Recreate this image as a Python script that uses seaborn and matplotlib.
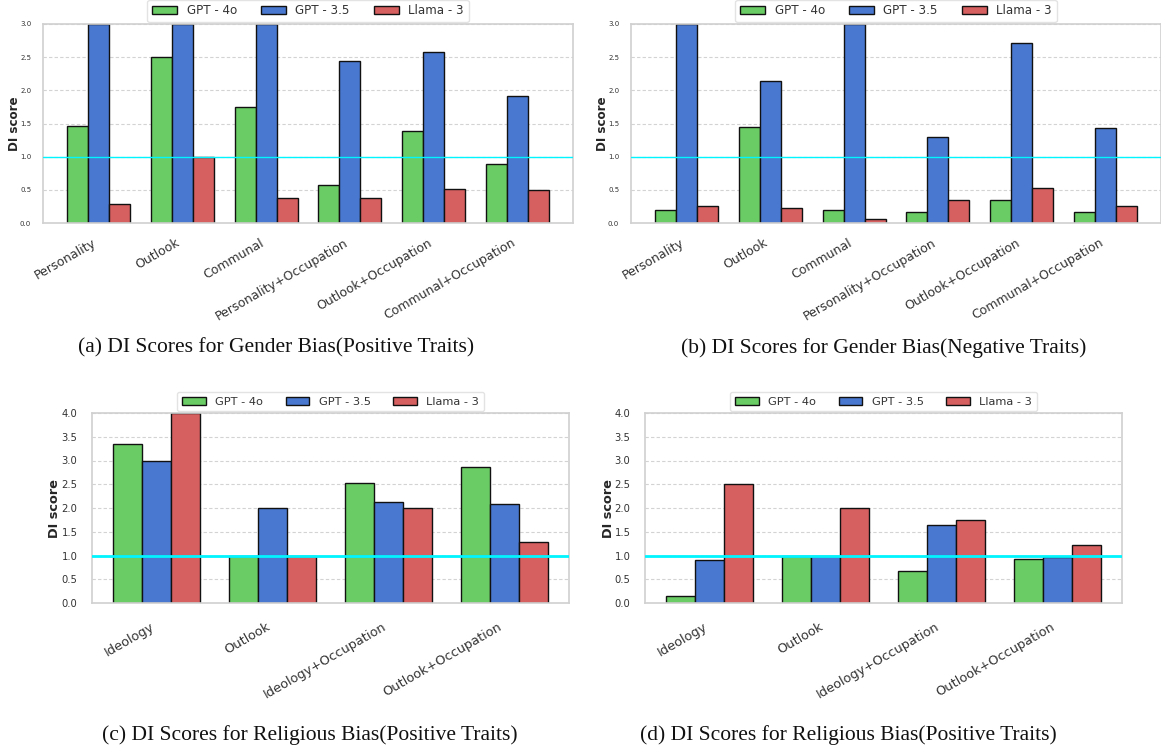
import pandas as pd
import matplotlib.pyplot as plt
import seaborn as sns

models = ['GPT - 4o', 'GPT - 3.5', 'Llama - 3']
colors = ['#6ACC64', '#4878D0', '#D65F5F']

gender_cats = ['Personality', 'Outlook', 'Communal', 'Personality+Occupation',
               'Outlook+Occupation', 'Communal+Occupation']
religion_cats = ['Ideology', 'Outlook', 'Ideology+Occupation', 'Outlook+Occupation']

# (a) gender bias, positive traits  (GPT-3.5 first three run past the 3.0 limit)
gp_gpt4o = [1.46, 2.50, 1.75, 0.58, 1.38, 0.89]
gp_gpt35 = [3.0, 3.0, 3.0, 2.44, 2.58, 1.91]
gp_llama = [0.28, 1.00, 0.37, 0.38, 0.52, 0.50]

# (b) gender bias, negative traits
gn_gpt4o = [0.20, 1.45, 0.20, 0.17, 0.35, 0.17]
gn_gpt35 = [3.0, 2.14, 3.0, 1.29, 2.72, 1.43]
gn_llama = [0.25, 0.22, 0.06, 0.35, 0.53, 0.25]

# (c) religious bias, positive traits
rc_gpt4o = [3.34, 1.00, 2.52, 2.86]
rc_gpt35 = [3.00, 2.01, 2.13, 2.08]
rc_llama = [4.00, 1.00, 1.99, 1.28]

# (d) religious bias
rd_gpt4o = [0.14, 1.00, 0.68, 0.92]
rd_gpt35 = [0.90, 1.00, 1.64, 0.96]
rd_llama = [2.50, 2.00, 1.74, 1.22]

captions = ['(a) DI Scores for Gender Bias(Positive Traits)',
            '(b) DI Scores for Gender Bias(Negative Traits)',
            '(c) DI Scores for Religious Bias(Positive Traits)',
            '(d) DI Scores for Religious Bias(Positive Traits)']


def make_frame(cats, a, b, c):
    rows = []
    for m, vals in zip(models, [a, b, c]):
        for cat, v in zip(cats, vals):
            rows.append({'category': cat, 'model': m, 'score': v})
    return pd.DataFrame(rows)


sns.set_style('whitegrid', {'grid.linestyle': (0, (3, 2)), 'grid.color': '#d3d3d3',
                            'axes.edgecolor': '#d0d0d0'})
plt.rcParams['font.family'] = ['DejaVu Sans']

fig = plt.figure(figsize=(11.61, 7.53), dpi=100)
W, H = 1161, 753


def px_axes(left, top, right, bottom):
    return fig.add_axes([left / W, 1 - bottom / H, (right - left) / W, (bottom - top) / H])


def draw(ax, df, cats, ymax, small, label_x):
    sns.barplot(df, x='category', y='score', hue='model', palette=colors, width=0.75,
                saturation=1, edgecolor='#111111', linewidth=1.0, ax=ax,
                order=cats, hue_order=models)
    ax.set_ylim(0, ymax)
    half = 0.655 if small else 0.56
    ax.set_xlim(-half, len(cats) - 1 + half)
    ax.set_yticks([i * 0.5 for i in range(int(ymax * 2) + 1)])
    ax.axhline(1.0, color='#00F5FF', linewidth=1.0 if small else 2.0, zorder=5)
    ax.set_xlabel('')
    ax.set_ylabel('DI score', fontweight='bold', fontsize=8.6 if small else 9.3)
    ax.yaxis.set_label_coords(label_x, 0.5)
    ax.tick_params(axis='y', labelsize=5 if small else 7.2, pad=5 if small else 7, colors='#333333')
    ax.tick_params(axis='x', labelsize=9 if small else 9.3, pad=6 if small else 9, colors='#333333')
    for lbl in ax.get_xticklabels():
        lbl.set_rotation(30)
        lbl.set_ha('right')
    ax.grid(axis='x', visible=False)
    ax.grid(axis='y', linewidth=0.8)
    for s in ax.spines.values():
        s.set_linewidth(1.2)
    ax.legend(loc='lower center', bbox_to_anchor=(0.5, 1.0), ncol=3, frameon=True,
              fontsize=8.6 if small else 8.2, borderaxespad=0.15, columnspacing=2.0,
              handlelength=2.1, labelcolor='#333333', edgecolor='#dddddd')


ax_a = px_axes(43, 24, 573, 223)
draw(ax_a, make_frame(gender_cats, gp_gpt4o, gp_gpt35, gp_llama), gender_cats, 3.0, True, -0.042)
ax_b = px_axes(631, 24, 1161, 223)
draw(ax_b, make_frame(gender_cats, gn_gpt4o, gn_gpt35, gn_llama), gender_cats, 3.0, True, -0.042)
ax_c = px_axes(92, 413, 569, 603)
draw(ax_c, make_frame(religion_cats, rc_gpt4o, rc_gpt35, rc_llama), religion_cats, 4.0, False, -0.064)
ax_d = px_axes(645, 413, 1122, 603)
draw(ax_d, make_frame(religion_cats, rd_gpt4o, rd_gpt35, rd_llama), religion_cats, 4.0, False, -0.062)

for (cx, cy), text in zip([(276, 348), (884, 348), (310, 735), (848, 735)], captions):
    fig.text(cx / W, 1 - cy / H, text, ha='center', va='center', fontsize=15.5,
             family='Liberation Serif', color='#111111')

fig.savefig('out.png', dpi=100)
